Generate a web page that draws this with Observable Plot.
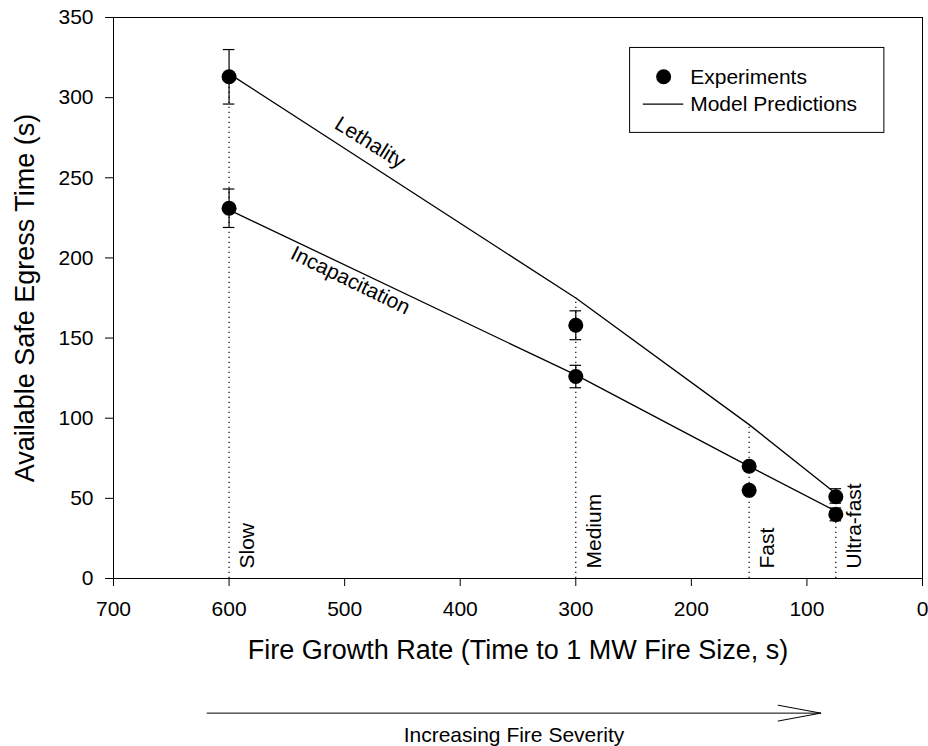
<!DOCTYPE html>
<html><head><meta charset="utf-8">
<script src="https://cdn.jsdelivr.net/npm/d3@7"></script>
<script src="https://cdn.jsdelivr.net/npm/@observablehq/plot@0.6"></script>
<style>body{margin:0;background:#fff}</style>
</head><body><div id="chart"></div>
<script>
// ---- data ----
const growthRate = [600, 300, 150, 75];
const rateNames = ["Slow", "Medium", "Fast", "Ultra-fast"];
const lethalityModel = [315, 175, 96, 53];
const incapModel = [230, 127, 70, 42];
const expRate = [600, 600, 300, 300, 150, 150, 75, 75];
const expTime = [313, 231, 158, 126, 70, 55, 51, 40];
const expLow  = [296, 219, 149, 119, null, null, 47, 36];
const expHigh = [330, 243, 167, 133, null, null, 56, 44];
const xTicks = [700, 600, 500, 400, 300, 200, 100, 0];
const yTicks = [0, 50, 100, 150, 200, 250, 300, 350];
const curveNames = ["Lethality", "Incapacitation"];
const curveLabelX = [478, 495];
const curveLabelY = [272, 186];
const curveLabelAngle = [32, 26];
const legendNames = ["Experiments", "Model Predictions"];
const xTitle = "Fire Growth Rate (Time to 1 MW Fire Size, s)";
const yTitle = "Available Safe Egress Time (s)";
const severityText = "Increasing Fire Severity";
// annotation anchors (data units)
const legendBox = {x1: 253, x2: 33, y1: 278, y2: 331};
const legendSymX = 224, legendLineX1 = 242, legendLineX2 = 207, legendTextX = 201;
const legendRowY = [313, 296];
const arrowX = [619, 88], arrowY = -84, severityY = -98;

const font = "'Liberation Sans', Arial, Helvetica, sans-serif";
const lethal = growthRate.map((x, i) => ({x, y: lethalityModel[i]}));
const incap = growthRate.map((x, i) => ({x, y: incapModel[i]}));
const exp = expRate.map((x, i) => ({x, y: expTime[i], lo: expLow[i], hi: expHigh[i]}));
const errs = exp.filter(d => d.lo != null);
const cap = 5;
const rates = growthRate.map((x, i) => ({x, top: lethalityModel[i], name: rateNames[i]}));
const curveLbl = curveNames.map((t, i) => ({t, x: curveLabelX[i], y: curveLabelY[i], r: curveLabelAngle[i]}));

const chart = Plot.plot({
  width: 928, height: 746,
  marginLeft: 113, marginRight: 6, marginTop: 17, marginBottom: 168,
  style: {fontFamily: font, color: "black", background: "white"},
  x: {domain: [700, 0]},
  y: {domain: [0, 350]},
  marks: [
    Plot.axisX({ticks: xTicks, tickSize: 8, tickPadding: 15, fontSize: 21, label: null, tickFormat: d => String(d)}),
    Plot.axisY({ticks: yTicks, tickSize: 8, tickPadding: 12, fontSize: 21, label: null, tickFormat: d => String(d)}),
    Plot.frame({stroke: "black", strokeWidth: 1}),
    Plot.ruleX(rates, {x: "x", y1: 0, y2: "top", stroke: "black", strokeWidth: 1.2, strokeDasharray: "1.3,3.7"}),
    Plot.line(lethal, {x: "x", y: "y", stroke: "black", strokeWidth: 1.3}),
    Plot.line(incap, {x: "x", y: "y", stroke: "black", strokeWidth: 1.3}),
    Plot.ruleX(errs, {x: "x", y1: "lo", y2: "hi", stroke: "black", strokeWidth: 1.2}),
    Plot.ruleY(errs, {y: "lo", x1: d => d.x + cap, x2: d => d.x - cap, stroke: "black", strokeWidth: 1.2}),
    Plot.ruleY(errs, {y: "hi", x1: d => d.x + cap, x2: d => d.x - cap, stroke: "black", strokeWidth: 1.2}),
    Plot.dot(exp, {x: "x", y: "y", r: 7.5, fill: "black", stroke: "none"}),
    Plot.text(rates, {x: "x", y: 0, text: "name", rotate: -90, textAnchor: "start", lineAnchor: "middle", dx: 18, dy: -10, fontSize: 21, fill: "black"}),
    Plot.text(curveLbl, {x: "x", y: "y", text: "t", rotate: "r", fontSize: 21, fill: "black"}),
    // legend
    Plot.rect([legendBox], {x1: "x1", x2: "x2", y1: "y1", y2: "y2", fill: "white", stroke: "black", strokeWidth: 1}),
    Plot.dot([legendRowY[0]], {x: legendSymX, y: d => d, r: 7.5, fill: "black"}),
    Plot.link([legendRowY[1]], {x1: legendLineX1, x2: legendLineX2, y1: d => d, y2: d => d, stroke: "black", strokeWidth: 1.3}),
    Plot.text(legendNames, {x: legendTextX, y: (d, i) => legendRowY[i], text: d => d, textAnchor: "start", fontSize: 21, fill: "black"}),
    // axis titles
    Plot.text([xTitle], {frameAnchor: "bottom", dy: 80, text: d => d, fontSize: 27, fill: "black"}),
    Plot.text([yTitle], {frameAnchor: "left", dx: -88, rotate: -90, textAnchor: "middle", text: d => d, fontSize: 27, fill: "black"}),
    // severity arrow
    Plot.arrow([0], {x1: arrowX[0], x2: arrowX[1], y1: arrowY, y2: arrowY, stroke: "black", strokeWidth: 1, headLength: 65, headAngle: 21}),
    Plot.text([severityText], {x: (arrowX[0] + arrowX[1]) / 2, y: severityY, text: d => d, fontSize: 21, fill: "black"})
  ]
});
document.getElementById("chart").appendChild(chart);
</script>
</body></html>
